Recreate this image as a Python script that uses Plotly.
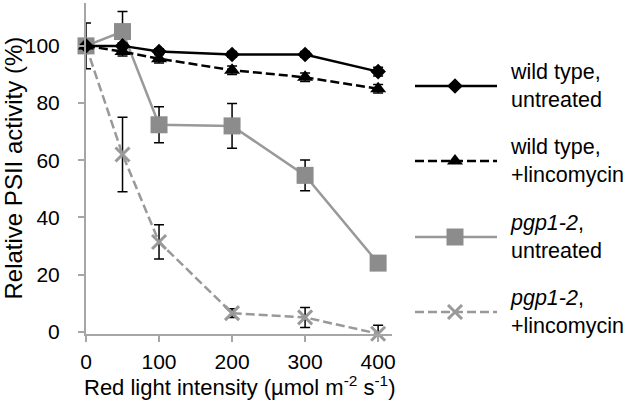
import plotly.graph_objects as go

# ---- data ----
light = [0, 50, 100, 200, 300, 400]
wt_untreated = [100, 100, 98, 97, 97, 91]
wt_untreated_err = [0, 1, 1, 1, 1, 1.5]
wt_linco = [100, 98, 95.5, 91.5, 89, 85]
wt_linco_err = [0, 1.5, 1.5, 1.5, 1.5, 1.5]
pgp_untreated = [100, 105, 72.4, 72, 54.7, 24]
pgp_untreated_err = [8, 7, 6.3, 7.8, 5.4, 1.5]
pgp_linco = [100, 62, 31.4, 6.5, 5, -0.7]
pgp_linco_err = [0, 13, 6, 1.5, 3.5, 3]

legend_lines = [["wild type,", "untreated"], ["wild type,", "+lincomycin"],
                ["<i>pgp1-2</i>,", "untreated"], ["<i>pgp1-2</i>,", "+lincomycin"]]
x_ticks = [0, 100, 200, 300, 400]
y_ticks = [0, 20, 40, 60, 80, 100]

BLACK = "#000000"
GRAY_LINE = "#999999"
GRAY_FILL = "#8c8c8c"
AXIS = "#a6a6a6"
FONT = "Liberation Sans, Arial, sans-serif"

W, H = 630, 404
ML, MR, MT, MB = 86, 0, 3, 70
plot_right_px = 392
paper_w = W - ML - MR
paper_h = H - MT - MB
bottom_px = H - MB
dom = (plot_right_px - ML) / paper_w

styles = [
    dict(name="pgp1-2, +lincomycin", y=pgp_linco, err=pgp_linco_err,
         line=dict(color=GRAY_LINE, width=2.5, dash="9px,4px"),
         marker=dict(symbol="x-thin", size=14, color=GRAY_LINE, line=dict(width=3, color=GRAY_LINE))),
    dict(name="pgp1-2, untreated", y=pgp_untreated, err=pgp_untreated_err,
         line=dict(color=GRAY_LINE, width=2.5),
         marker=dict(symbol="square", size=17, color=GRAY_FILL, line=dict(width=0))),
    dict(name="wild type, +lincomycin", y=wt_linco, err=wt_linco_err,
         line=dict(color=BLACK, width=2.5, dash="9px,4px"),
         marker=dict(symbol="triangle-up", size=14, color=BLACK, line=dict(width=0))),
    dict(name="wild type, untreated", y=wt_untreated, err=wt_untreated_err,
         line=dict(color=BLACK, width=2.5),
         marker=dict(symbol="diamond", size=12, color=BLACK, line=dict(width=0))),
]

fig = go.Figure()
for s in styles:
    fig.add_trace(go.Scatter(
        x=light, y=s["y"], mode="lines+markers", name=s["name"],
        line=s["line"], marker=s["marker"], cliponaxis=False, showlegend=False,
        error_y=dict(type="data", array=s["err"], visible=True, color=BLACK,
                     thickness=1.5, width=5),
    ))

# ---- manual legend (pixel coordinates on helper axes x2/y2) ----
leg_y = [86, 161, 237, 312]
leg_x0, leg_x1, leg_mx, leg_tx = 415, 497, 455, 508
leg_styles = [styles[3], styles[2], styles[1], styles[0]]
for yy, s, txt in zip(leg_y, leg_styles, legend_lines):
    fig.add_trace(go.Scatter(x=[leg_x0, leg_x1], y=[yy, yy], mode="lines",
                             line=s["line"], xaxis="x2", yaxis="y2",
                             showlegend=False, hoverinfo="skip", cliponaxis=False))
    fig.add_trace(go.Scatter(x=[leg_mx], y=[yy], mode="markers",
                             marker=s["marker"], xaxis="x2", yaxis="y2",
                             showlegend=False, hoverinfo="skip", cliponaxis=False))
    fig.add_annotation(x=leg_tx, y=yy, xref="x2", yref="y2", xanchor="left",
                       yanchor="middle", align="left", showarrow=False,
                       text="<br>".join(txt),
                       font=dict(family=FONT, size=21.5, color=BLACK))

# axis titles
fig.add_annotation(x=(13 - ML) / paper_w, y=0.5, xref="paper", yref="paper",
                   xanchor="center", yanchor="middle", textangle=-90, showarrow=False,
                   text="Relative PSII activity (%)",
                   font=dict(family=FONT, size=24, color=BLACK))
fig.add_annotation(x=0.5 * dom, y=(bottom_px - 386) / paper_h, xref="paper", yref="paper",
                   xanchor="center", yanchor="middle", showarrow=False,
                   text="Red light intensity (µmol m<sup>-2</sup> s<sup>-1</sup>)",
                   font=dict(family=FONT, size=22, color=BLACK))

fig.update_layout(
    width=W, height=H,
    margin=dict(l=ML, r=MR, t=MT, b=MB, autoexpand=False),
    paper_bgcolor="white", plot_bgcolor="white",
    font=dict(family=FONT, size=20, color=BLACK),
    xaxis=dict(domain=[0, dom], range=[0, 419], tickvals=x_ticks, automargin=False,
               showgrid=False, zeroline=False, showline=True, linecolor=AXIS, linewidth=2,
               ticks="outside", ticklen=6, tickwidth=2, tickcolor=AXIS,
               tickfont=dict(family=FONT, size=21, color=BLACK), ticklabelstandoff=2),
    yaxis=dict(range=[-0.8, 115], tickvals=y_ticks, automargin=False,
               showgrid=False, zeroline=False, showline=True, linecolor=AXIS, linewidth=2,
               ticks="outside", ticklen=6, tickwidth=2, tickcolor=AXIS,
               tickfont=dict(family=FONT, size=21, color=BLACK), ticklabelstandoff=14),
    xaxis2=dict(domain=[dom, 1], range=[plot_right_px, W], visible=False, fixedrange=True),
    yaxis2=dict(anchor="x2", range=[bottom_px, MT], visible=False, fixedrange=True),
)

fig.write_html("out.html", config={"displayModeBar": False},
               post_script="document.body.style.margin='0';document.body.style.overflow='hidden';")
